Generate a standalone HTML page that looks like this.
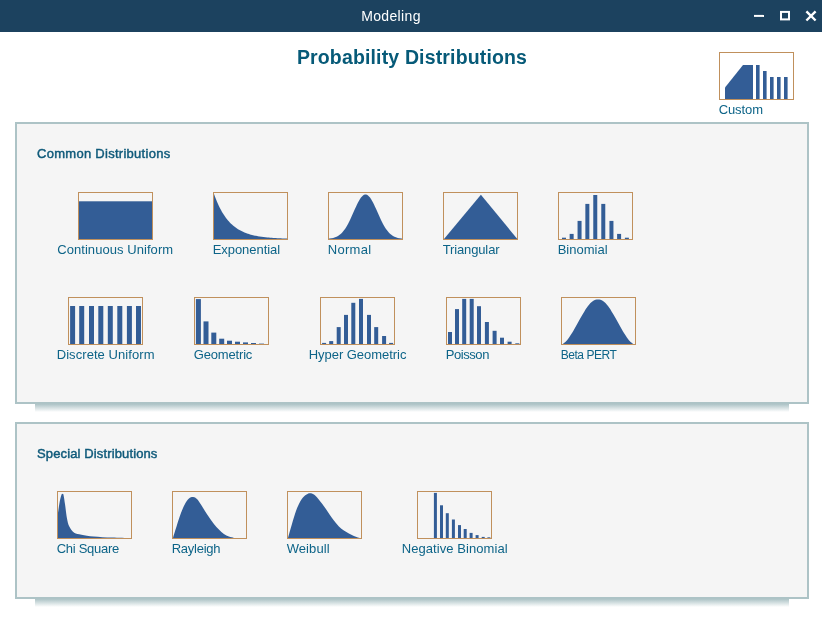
<!DOCTYPE html>
<html><head><meta charset="utf-8"><title>Modeling</title>
<style>
html,body{margin:0;padding:0;}
body{width:822px;height:619px;background:#fff;position:relative;overflow:hidden;font-family:"Liberation Sans",sans-serif;}
.tb{position:absolute;left:0;top:0;width:822px;height:32px;background:#1c425f;}
.tt{position:absolute;left:0;width:782px;top:0;height:32px;line-height:32px;text-align:center;color:#fff;font-size:14px;letter-spacing:0.35px;}
.h1{position:absolute;left:0;width:824px;top:44px;text-align:center;font-weight:bold;font-size:19.5px;color:#065a78;letter-spacing:0.15px;white-space:nowrap;line-height:26px;}
.panel{position:absolute;left:15px;width:790px;background:#f5f5f5;border:2px solid #adc3c6;}
.sh{position:absolute;left:35px;width:754px;height:8px;background:linear-gradient(#adc3c6,#fff);}
.hd{position:absolute;left:37px;font-weight:normal;-webkit-text-stroke:0.45px #0f5a7a;font-size:13px;color:#0f5a7a;white-space:nowrap;line-height:16px;}
.ic{position:absolute;display:block;}
.lb{position:absolute;font-size:13px;color:#0d6488;white-space:nowrap;line-height:16px;}
.wc{position:absolute;top:0;}
</style></head><body>
<div class="tb"></div>
<div class="tt">Modeling</div>
<svg class="wc" style="left:748px" width="74" height="32" viewBox="0 0 74 32"><g stroke="#fff" stroke-width="2" fill="none"><path d="M6,15.9 H16"/><rect x="33" y="11.9" width="8" height="7.5"/><path stroke-width="2.4" d="M58.4,11.3 L67.6,20.5 M67.6,11.3 L58.4,20.5"/></g></svg>
<div class="h1">Probability Distributions</div>
<div class="panel" style="top:122px;height:278px"></div>
<div class="sh" style="top:404px"></div>
<div class="panel" style="top:422px;height:173px"></div>
<div class="sh" style="top:599px"></div>
<div class="hd" style="top:146px;letter-spacing:0.28px">Common Distributions</div>
<div class="hd" style="top:446px;letter-spacing:0.13px">Special Distributions</div>
<svg class="ic" style="left:719px;top:52px" width="75" height="48" viewBox="0 0 75 48"><g fill="#335d96"><polygon points="6,47 6,35.5 24,13 34,13 34,47"/><rect x="37" y="13" width="3.6" height="34"/><rect x="44" y="19" width="3.6" height="28"/><rect x="51" y="25" width="3.6" height="22"/><rect x="58" y="25" width="3.6" height="22"/><rect x="65" y="25" width="3.6" height="22"/></g><rect x="0.5" y="0.5" width="74" height="47" fill="none" stroke="#c0905c" stroke-width="1"/></svg>
<div class="lb" style="left:718.7px;top:102px;letter-spacing:-0.10px">Custom</div>
<svg class="ic" style="left:78px;top:192px" width="75" height="48" viewBox="0 0 75 48"><g fill="#335d96"><rect x="1" y="9.3" width="73" height="37.7"/></g><rect x="0.5" y="0.5" width="74" height="47" fill="none" stroke="#c0905c" stroke-width="1"/></svg>
<div class="lb" style="left:57.2px;top:242px;letter-spacing:0.06px">Continuous Uniform</div>
<svg class="ic" style="left:213px;top:192px" width="75" height="48" viewBox="0 0 75 48"><g fill="#335d96"><polygon points="1.00,47.00 1.00,2.00 2.00,4.76 3.00,7.35 4.00,9.78 5.00,12.06 6.00,14.21 7.00,16.22 8.00,18.11 9.00,19.88 10.00,21.54 11.00,23.10 12.00,24.57 13.00,25.94 14.00,27.24 15.00,28.45 16.00,29.59 17.00,30.65 18.00,31.66 19.00,32.60 20.00,33.48 21.00,34.31 22.00,35.09 23.00,35.82 24.00,36.50 25.00,37.15 26.00,37.75 27.00,38.32 28.00,38.85 29.00,39.35 30.00,39.82 31.00,40.26 32.00,40.67 33.00,41.06 34.00,41.43 35.00,41.77 36.00,42.09 37.00,42.39 38.00,42.67 39.00,42.94 40.00,43.19 41.00,43.42 42.00,43.64 43.00,43.85 44.00,44.04 45.00,44.22 46.00,44.39 47.00,44.55 48.00,44.70 49.00,44.84 50.00,44.98 51.00,45.10 52.00,45.22 53.00,45.33 54.00,45.43 55.00,45.52 56.00,45.62 57.00,45.70 58.00,45.78 59.00,45.85 60.00,45.92 61.00,45.99 62.00,46.05 63.00,46.11 64.00,46.17 65.00,46.22 66.00,46.26 67.00,46.31 68.00,46.35 69.00,46.39 70.00,46.43 71.00,46.46 72.00,46.50 73.00,46.53 74.00,46.56 74.00,47.00"/></g><rect x="0.5" y="0.5" width="74" height="47" fill="none" stroke="#c0905c" stroke-width="1"/></svg>
<div class="lb" style="left:212.7px;top:242px;letter-spacing:-0.05px">Exponential</div>
<svg class="ic" style="left:328px;top:192px" width="75" height="48" viewBox="0 0 75 48"><g fill="#335d96"><polygon points="1.00,47.00 1.00,46.60 2.00,46.48 3.00,46.33 4.00,46.15 5.00,45.93 6.00,45.66 7.00,45.33 8.00,44.94 9.00,44.47 10.00,43.92 11.00,43.27 12.00,42.52 13.00,41.66 14.00,40.67 15.00,39.55 16.00,38.30 17.00,36.91 18.00,35.38 19.00,33.71 20.00,31.91 21.00,29.98 22.00,27.95 23.00,25.82 24.00,23.62 25.00,21.37 26.00,19.10 27.00,16.85 28.00,14.64 29.00,12.52 30.00,10.52 31.00,8.67 32.00,7.01 33.00,5.57 34.00,4.38 35.00,3.47 36.00,2.85 37.00,2.54 38.00,2.54 39.00,2.85 40.00,3.47 41.00,4.38 42.00,5.57 43.00,7.01 44.00,8.67 45.00,10.52 46.00,12.52 47.00,14.64 48.00,16.85 49.00,19.10 50.00,21.37 51.00,23.62 52.00,25.82 53.00,27.95 54.00,29.98 55.00,31.91 56.00,33.71 57.00,35.38 58.00,36.91 59.00,38.30 60.00,39.55 61.00,40.67 62.00,41.66 63.00,42.52 64.00,43.27 65.00,43.92 66.00,44.47 67.00,44.94 68.00,45.33 69.00,45.66 70.00,45.93 71.00,46.15 72.00,46.33 73.00,46.48 74.00,46.60 74.00,47.00"/></g><rect x="0.5" y="0.5" width="74" height="47" fill="none" stroke="#c0905c" stroke-width="1"/></svg>
<div class="lb" style="left:327.7px;top:242px;letter-spacing:0.30px">Normal</div>
<svg class="ic" style="left:443px;top:192px" width="75" height="48" viewBox="0 0 75 48"><g fill="#335d96"><polygon points="1.00,47.00 37.90,2.70 74.30,47.00"/></g><rect x="0.5" y="0.5" width="74" height="47" fill="none" stroke="#c0905c" stroke-width="1"/></svg>
<div class="lb" style="left:442.7px;top:242px;letter-spacing:-0.13px">Triangular</div>
<svg class="ic" style="left:558px;top:192px" width="75" height="48" viewBox="0 0 75 48"><g fill="#335d96"><rect x="3.99" y="45.70" width="4" height="1.30"/><rect x="11.65" y="41.90" width="4" height="5.10"/><rect x="19.56" y="28.90" width="4" height="18.10"/><rect x="27.35" y="11.90" width="4" height="35.10"/><rect x="35.26" y="3.00" width="4" height="44.00"/><rect x="43.28" y="11.90" width="4" height="35.10"/><rect x="51.44" y="28.90" width="4" height="18.10"/><rect x="59.10" y="41.90" width="4" height="5.10"/><rect x="66.89" y="45.70" width="4" height="1.30"/></g><rect x="0.5" y="0.5" width="74" height="47" fill="none" stroke="#c0905c" stroke-width="1"/></svg>
<div class="lb" style="left:557.7px;top:242px">Binomial</div>
<svg class="ic" style="left:68px;top:297px" width="75" height="48" viewBox="0 0 75 48"><g fill="#335d96"><rect x="2.10" y="9.00" width="5" height="38.00"/><rect x="11.20" y="9.00" width="5" height="38.00"/><rect x="21.00" y="9.00" width="5" height="38.00"/><rect x="30.30" y="9.00" width="5" height="38.00"/><rect x="39.80" y="9.00" width="5" height="38.00"/><rect x="49.30" y="9.00" width="5" height="38.00"/><rect x="58.90" y="9.00" width="5" height="38.00"/><rect x="68.00" y="9.00" width="5" height="38.00"/></g><rect x="0.5" y="0.5" width="74" height="47" fill="none" stroke="#c0905c" stroke-width="1"/></svg>
<div class="lb" style="left:56.7px;top:347px;letter-spacing:0.07px">Discrete Uniform</div>
<svg class="ic" style="left:194px;top:297px" width="75" height="48" viewBox="0 0 75 48"><g fill="#335d96"><rect x="1.90" y="2.10" width="5" height="44.90"/><rect x="9.50" y="24.40" width="5" height="22.60"/><rect x="17.30" y="35.60" width="5" height="11.40"/><rect x="25.20" y="41.70" width="5" height="5.30"/><rect x="33.00" y="43.70" width="5" height="3.30"/><rect x="41.00" y="44.70" width="5" height="2.30"/><rect x="49.00" y="45.40" width="5" height="1.60"/><rect x="57.00" y="46.00" width="5" height="1.00"/><rect x="65.00" y="46.60" width="5" height="0.40"/></g><rect x="0.5" y="0.5" width="74" height="47" fill="none" stroke="#c0905c" stroke-width="1"/></svg>
<div class="lb" style="left:193.7px;top:347px;letter-spacing:-0.16px">Geometric</div>
<svg class="ic" style="left:320px;top:297px" width="75" height="48" viewBox="0 0 75 48"><g fill="#335d96"><rect x="2.10" y="45.90" width="4" height="1.10"/><rect x="9.20" y="44.10" width="4" height="2.90"/><rect x="16.70" y="30.10" width="4" height="16.90"/><rect x="24.00" y="17.90" width="4" height="29.10"/><rect x="31.30" y="5.80" width="4" height="41.20"/><rect x="39.00" y="1.90" width="4" height="45.10"/><rect x="47.00" y="17.90" width="4" height="29.10"/><rect x="54.20" y="30.10" width="4" height="16.90"/><rect x="62.10" y="39.00" width="4" height="8.00"/><rect x="69.10" y="45.90" width="4" height="1.10"/></g><rect x="0.5" y="0.5" width="74" height="47" fill="none" stroke="#c0905c" stroke-width="1"/></svg>
<div class="lb" style="left:308.7px;top:347px;letter-spacing:-0.04px">Hyper Geometric</div>
<svg class="ic" style="left:446px;top:297px" width="75" height="48" viewBox="0 0 75 48"><g fill="#335d96"><rect x="2.00" y="35.00" width="4" height="12.00"/><rect x="9.00" y="12.10" width="4" height="34.90"/><rect x="16.20" y="1.90" width="4" height="45.10"/><rect x="23.70" y="1.90" width="4" height="45.10"/><rect x="31.00" y="9.20" width="4" height="37.80"/><rect x="38.90" y="25.00" width="4" height="22.00"/><rect x="46.60" y="33.80" width="4" height="13.20"/><rect x="54.00" y="40.70" width="4" height="6.30"/><rect x="61.60" y="44.70" width="4" height="2.30"/><rect x="69.30" y="46.30" width="4" height="0.70"/></g><rect x="0.5" y="0.5" width="74" height="47" fill="none" stroke="#c0905c" stroke-width="1"/></svg>
<div class="lb" style="left:445.7px;top:347px;letter-spacing:-0.43px">Poisson</div>
<svg class="ic" style="left:561px;top:297px" width="75" height="48" viewBox="0 0 75 48"><g fill="#335d96"><path d="M1.80,47.00 C2.17,46.70 3.13,46.05 4.00,45.20 C4.87,44.35 5.67,43.70 7.00,41.90 C8.33,40.10 10.33,37.15 12.00,34.40 C13.67,31.65 15.33,28.35 17.00,25.40 C18.67,22.45 20.33,19.43 22.00,16.70 C23.67,13.97 25.33,11.12 27.00,9.00 C28.67,6.88 30.33,5.08 32.00,4.00 C33.67,2.92 35.33,2.50 37.00,2.50 C38.67,2.50 40.33,2.92 42.00,4.00 C43.67,5.08 45.33,6.88 47.00,9.00 C48.67,11.12 50.33,13.97 52.00,16.70 C53.67,19.43 55.33,22.45 57.00,25.40 C58.67,28.35 60.33,31.65 62.00,34.40 C63.67,37.15 65.67,40.10 67.00,41.90 C68.33,43.70 69.13,44.35 70.00,45.20 C70.87,46.05 71.83,46.70 72.20,47.00 Z"/></g><rect x="0.5" y="0.5" width="74" height="47" fill="none" stroke="#c0905c" stroke-width="1"/></svg>
<div class="lb" style="left:560.7px;top:347px;letter-spacing:-0.46px;font-size:12.0px">Beta PERT</div>
<svg class="ic" style="left:57px;top:491px" width="75" height="48" viewBox="0 0 75 48"><g fill="#335d96"><path d="M0.80,23.40 C1.10,21.37 2.00,14.45 2.60,11.20 C3.20,7.95 3.93,5.27 4.40,3.90 C4.87,2.53 5.05,3.00 5.40,3.00 C5.75,3.00 6.05,2.12 6.50,3.90 C6.95,5.68 7.53,9.83 8.10,13.70 C8.67,17.57 9.20,23.45 9.90,27.10 C10.60,30.75 11.08,33.17 12.30,35.60 C13.52,38.03 15.17,40.35 17.20,41.70 C19.23,43.05 21.25,43.07 24.50,43.70 C27.75,44.33 31.63,45.02 36.70,45.50 C41.77,45.98 48.82,46.33 54.90,46.60 C60.98,46.87 70.15,47.02 73.20,47.10 L74,47 L1,47 Z"/></g><rect x="0.5" y="0.5" width="74" height="47" fill="none" stroke="#c0905c" stroke-width="1"/></svg>
<div class="lb" style="left:56.7px;top:541px;letter-spacing:-0.28px">Chi Square</div>
<svg class="ic" style="left:172px;top:491px" width="75" height="48" viewBox="0 0 75 48"><g fill="#335d96"><path d="M0.99,46.90 C1.66,44.74 3.65,38.08 4.98,33.93 C6.31,29.77 7.65,25.44 8.98,21.95 C10.31,18.46 11.64,15.38 12.97,12.97 C14.30,10.56 15.58,8.64 16.96,7.48 C18.34,6.31 19.92,5.90 21.25,5.98 C22.58,6.07 23.66,6.73 24.94,7.98 C26.22,9.23 27.61,11.47 28.94,13.47 C30.27,15.46 31.60,17.87 32.93,19.95 C34.26,22.03 35.42,23.78 36.92,25.94 C38.42,28.10 40.25,30.85 41.91,32.93 C43.57,35.01 45.24,36.75 46.90,38.42 C48.56,40.08 50.23,41.71 51.89,42.91 C53.55,44.11 55.22,44.94 56.88,45.60 C58.54,46.27 61.04,46.68 61.87,46.90 Z"/></g><rect x="0.5" y="0.5" width="74" height="47" fill="none" stroke="#c0905c" stroke-width="1"/></svg>
<div class="lb" style="left:171.7px;top:541px;letter-spacing:-0.24px">Rayleigh</div>
<svg class="ic" style="left:287px;top:491px" width="75" height="48" viewBox="0 0 75 48"><g fill="#335d96"><path d="M0.99,46.90 C1.66,44.57 3.65,37.42 4.98,32.93 C6.31,28.44 7.65,23.61 8.98,19.95 C10.31,16.29 11.64,13.38 12.97,10.97 C14.30,8.56 15.63,6.85 16.96,5.48 C18.29,4.12 19.92,3.32 20.95,2.79 C21.98,2.26 22.15,2.17 23.15,2.29 C24.15,2.41 25.64,2.62 26.94,3.49 C28.24,4.35 29.60,5.98 30.93,7.48 C32.26,8.98 33.59,10.72 34.92,12.47 C36.25,14.22 37.59,16.05 38.92,17.96 C40.25,19.87 41.58,22.03 42.91,23.95 C44.24,25.86 45.40,27.52 46.90,29.44 C48.40,31.35 50.23,33.76 51.89,35.42 C53.55,37.09 55.22,38.25 56.88,39.42 C58.54,40.58 60.21,41.49 61.87,42.41 C63.53,43.32 65.20,44.19 66.86,44.90 C68.52,45.62 70.77,46.37 71.85,46.70 C72.93,47.03 73.10,46.87 73.35,46.90 Z"/></g><rect x="0.5" y="0.5" width="74" height="47" fill="none" stroke="#c0905c" stroke-width="1"/></svg>
<div class="lb" style="left:286.7px;top:541px;letter-spacing:0.08px">Weibull</div>
<svg class="ic" style="left:417px;top:491px" width="75" height="48" viewBox="0 0 75 48"><g fill="#335d96"><rect x="16.90" y="1.90" width="3" height="45.10"/><rect x="23.00" y="14.30" width="3" height="32.70"/><rect x="28.80" y="22.20" width="3" height="24.80"/><rect x="34.90" y="28.50" width="3" height="18.50"/><rect x="41.00" y="34.10" width="3" height="12.90"/><rect x="46.70" y="38.00" width="3" height="9.00"/><rect x="52.60" y="41.90" width="3" height="5.10"/><rect x="58.60" y="44.10" width="3" height="2.90"/><rect x="64.70" y="45.90" width="3" height="1.10"/><rect x="70.40" y="46.30" width="3" height="0.70"/></g><rect x="0.5" y="0.5" width="74" height="47" fill="none" stroke="#c0905c" stroke-width="1"/></svg>
<div class="lb" style="left:401.7px;top:541px;letter-spacing:0.07px">Negative Binomial</div>
</body></html>
